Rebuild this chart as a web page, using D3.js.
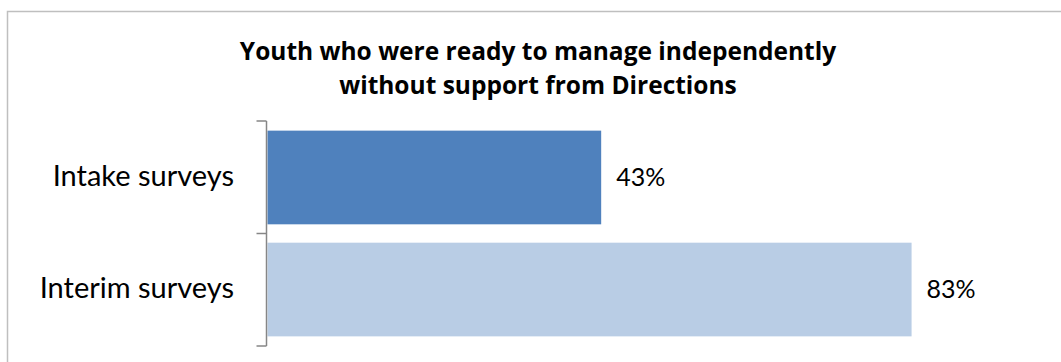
<!DOCTYPE html>
<html>
<head>
<meta charset="utf-8">
<script src="https://cdn.jsdelivr.net/npm/d3@7"></script>
<style>
  html, body { margin: 0; padding: 0; background: #fff; }
  svg { display: block; }
</style>
</head>
<body>
<svg id="chart" width="1061" height="362"></svg>
<script>
// Survey results: share of youth ready to manage independently
const categories = ["Intake surveys", "Interim surveys"];
const values = [43, 83];
const barColors = ["#4F81BD", "#B9CDE5"];
const titleLines = ["Youth who were ready to manage independently", "without support from Directions"];

const svg = d3.select("#chart");
const labelFont = "Lato, 'Open Sans', sans-serif";
const titleFont = "'Open Sans', Lato, sans-serif";

// outer chart frame
svg.append("rect")
  .attr("x", 7.5).attr("y", 11.5)
  .attr("width", 1080).attr("height", 400)
  .attr("fill", "none")
  .attr("stroke", "#BFBFBF")
  .attr("stroke-width", 1.5);

// title
const title = svg.append("text")
  .attr("text-anchor", "middle")
  .attr("font-family", titleFont)
  .attr("font-weight", "bold")
  .attr("font-size", 24.5)
  .attr("fill", "#000");
titleLines.forEach((t, i) => {
  title.append("tspan").attr("x", 538).attr("y", 60 + i * 34).text(t);
});

const plotTop = 121, plotBottom = 346, plotLeft = 267.5;

const y = d3.scaleBand()
  .domain(categories)
  .range([plotTop, plotBottom])
  .paddingInner(0.164)
  .paddingOuter(0.086);

const x = d3.scaleLinear()
  .domain([0, 100])
  .range([plotLeft, plotLeft + 776]);

// bars
svg.selectAll("rect.bar")
  .data(categories)
  .join("rect")
  .attr("class", "bar")
  .attr("x", x(0))
  .attr("y", d => y(d))
  .attr("width", (d, i) => x(values[i]) - x(0))
  .attr("height", y.bandwidth())
  .attr("fill", (d, i) => barColors[i]);

// category axis with bracket-style ticks at band boundaries
const axisX = 266.5;
svg.append("line")
  .attr("x1", axisX).attr("x2", axisX)
  .attr("y1", plotTop).attr("y2", plotBottom)
  .attr("stroke", "#868686").attr("stroke-width", 1.5);

const tickYs = d3.range(categories.length + 1).map(i => plotTop + i * (plotBottom - plotTop) / categories.length);
svg.selectAll("line.tick")
  .data(tickYs)
  .join("line")
  .attr("class", "tick")
  .attr("x1", axisX - 10).attr("x2", axisX)
  .attr("y1", d => d).attr("y2", d => d)
  .attr("stroke", "#868686").attr("stroke-width", 1.5);

// category labels
svg.selectAll("text.cat")
  .data(categories)
  .join("text")
  .attr("class", "cat")
  .attr("x", 234)
  .attr("y", d => y(d) + y.bandwidth() / 2)
  .attr("dy", "0.3em")
  .attr("text-anchor", "end")
  .attr("font-family", labelFont)
  .attr("font-size", 29)
  .attr("fill", "#000")
  .text(d => d);

// value labels
svg.selectAll("text.val")
  .data(categories)
  .join("text")
  .attr("class", "val")
  .attr("x", (d, i) => x(values[i]) + 15)
  .attr("y", d => y(d) + y.bandwidth() / 2)
  .attr("dy", "0.35em")
  .attr("font-family", labelFont)
  .attr("font-size", 25)
  .attr("fill", "#000")
  .text((d, i) => values[i] + "%");
</script>
</body>
</html>
